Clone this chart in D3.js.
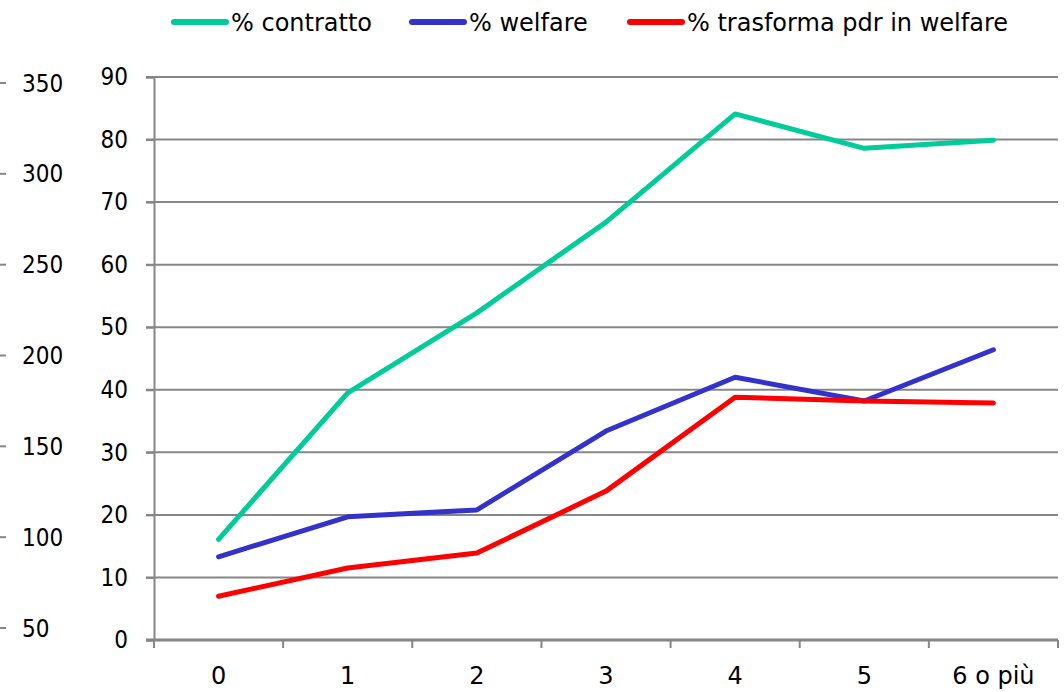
<!DOCTYPE html>
<html>
<head>
<meta charset="utf-8">
<script src="https://cdn.jsdelivr.net/npm/d3@7"></script>
<style>
  body { margin: 0; background: #fff; }
  text { font-family: "DejaVu Sans", Verdana, sans-serif; fill: #000; }
  .num { font-family: "DejaVu Sans Condensed", "DejaVu Sans", sans-serif; font-stretch: condensed; }
</style>
</head>
<body>
<svg width="1064" height="692"></svg>
<script>
var categories = ["0", "1", "2", "3", "4", "5", "6 o più"];
var contratto = [16.1, 39.5, 52.3, 66.8, 84.1, 78.6, 79.9];
var welfare = [13.3, 19.7, 20.8, 33.4, 42.0, 38.2, 46.4];
var trasforma = [7.0, 11.5, 13.9, 23.8, 38.8, 38.2, 37.9];
var leftTicks = [0, 10, 20, 30, 40, 50, 60, 70, 80, 90];
var outerTicks = [50, 100, 150, 200, 250, 300, 350];

var series = [
  {name: "% contratto", values: contratto, color: "#00cc99"},
  {name: "% welfare", values: welfare, color: "#3333cc"},
  {name: "% trasforma pdr in welfare", values: trasforma, color: "#ff0000"}
];

var svg = d3.select("svg"),
    fs = 24,
    x0 = 154, x1 = 1058, yTop = 77, yBot = 640;

var x = d3.scaleBand().domain(categories).range([x0, x1]);
var y = d3.scaleLinear().domain([0, 90]).range([yBot, yTop]);
var y2 = d3.scaleLinear().domain([50, 350]).range([628, 83]);

// gridlines
svg.append("g").selectAll("line")
  .data(leftTicks.slice(1))
  .enter().append("line")
    .attr("x1", x0 - 8).attr("x2", x1)
    .attr("y1", function(d) { return y(d); })
    .attr("y2", function(d) { return y(d); })
    .attr("stroke", "#868686").attr("stroke-width", 2);

// left value axis
var yAxis = svg.append("g")
    .attr("transform", "translate(" + x0 + ",0)")
    .call(d3.axisLeft(y).tickValues(leftTicks).tickSize(8).tickPadding(18));
yAxis.select(".domain").attr("stroke", "#868686").attr("stroke-width", 2);
yAxis.selectAll(".tick line").attr("stroke", "#868686").attr("stroke-width", 2);
yAxis.selectAll("text").attr("class", "num").style("font-size", fs + "px").attr("font-family", null);

// bottom axis
var xAxis = svg.append("g")
    .attr("transform", "translate(0," + yBot + ")");
xAxis.append("line")
    .attr("x1", x0 - 8).attr("x2", x1)
    .attr("stroke", "#868686").attr("stroke-width", 3);
xAxis.selectAll(".tk")
  .data(categories.concat(["end"]))
  .enter().append("line")
    .attr("x1", function(d, i) { return x0 + i * x.step(); })
    .attr("x2", function(d, i) { return x0 + i * x.step(); })
    .attr("y1", 0).attr("y2", 8)
    .attr("stroke", "#868686").attr("stroke-width", 2);
xAxis.selectAll(".lbl")
  .data(categories)
  .enter().append("text")
    .attr("x", function(d) { return x(d) + x.bandwidth() / 2; })
    .attr("y", 44)
    .attr("text-anchor", "middle")
    .style("font-size", fs + "px")
    .text(function(d) { return d; });

// far-left secondary axis
var outer = svg.append("g");
outer.selectAll("line")
  .data(outerTicks)
  .enter().append("line")
    .attr("x1", 0).attr("x2", 6)
    .attr("y1", function(d) { return y2(d); })
    .attr("y2", function(d) { return y2(d); })
    .attr("stroke", "#868686").attr("stroke-width", 2);
outer.selectAll("text")
  .data(outerTicks)
  .enter().append("text")
    .attr("class", "num")
    .attr("x", 22)
    .attr("y", function(d) { return y2(d); })
    .attr("dy", "0.36em")
    .style("font-size", fs + "px")
    .text(function(d) { return d; });

// lines
var line = d3.line()
  .x(function(d, i) { return x(categories[i]) + x.bandwidth() / 2; })
  .y(function(d) { return y(d); });

svg.selectAll(".series")
  .data(series)
  .enter().append("path")
    .attr("d", function(d) { return line(d.values); })
    .attr("fill", "none")
    .attr("stroke", function(d) { return d.color; })
    .attr("stroke-width", 5)
    .attr("stroke-linejoin", "round")
    .attr("stroke-linecap", "round");

// legend
var legendX = [172, 410, 628];
var lg = svg.selectAll(".legend")
  .data(series)
  .enter().append("g")
    .attr("transform", function(d, i) { return "translate(" + legendX[i] + ",22)"; });
lg.append("line")
    .attr("x1", 2).attr("x2", 54)
    .attr("stroke", function(d) { return d.color; })
    .attr("stroke-width", 6)
    .attr("stroke-linecap", "round");
lg.append("text")
    .attr("x", 59)
    .attr("dy", "0.36em")
    .style("font-size", fs + "px")
    .text(function(d) { return d.name; });
</script>
</body>
</html>
